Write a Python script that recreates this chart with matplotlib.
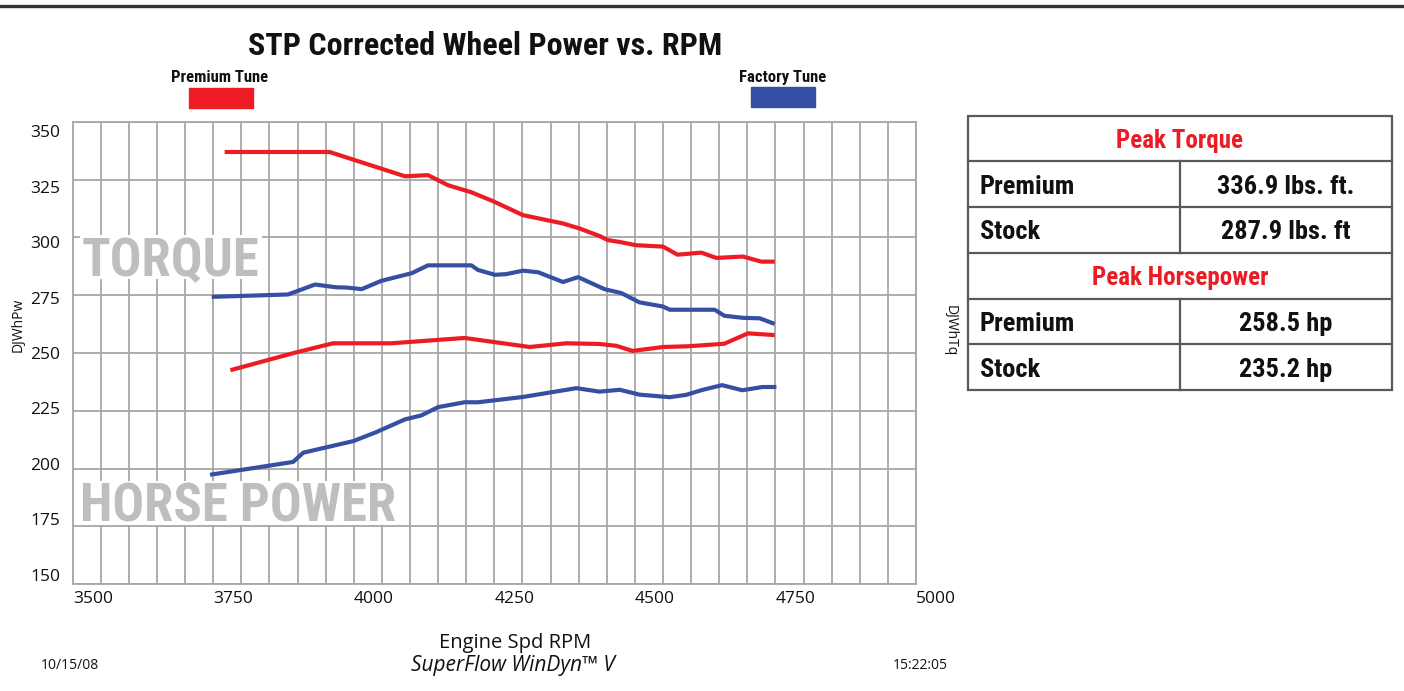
import numpy as np
import matplotlib
matplotlib.use("Agg")
import matplotlib.pyplot as plt
from matplotlib import font_manager as fm

# ---------------- data ----------------
x_ticks = [3500, 3750, 4000, 4250, 4500, 4750, 5000]
y_ticks = [150, 175, 200, 225, 250, 275, 300, 325, 350]

tq_prem_rpm = [3774, 3957, 4091, 4132, 4168, 4209, 4248, 4301, 4372, 4402, 4437,
               4452, 4473, 4502, 4550, 4576, 4618, 4645, 4692, 4725, 4745]
tq_prem = [336.9, 336.9, 326.4, 326.9, 322.5, 319.5, 315.6, 309.6, 306.0, 303.8, 300.6,
           298.8, 298.0, 296.6, 296.0, 292.5, 293.4, 291.1, 291.7, 289.5, 289.5]

tq_stock_rpm = [3751, 3883, 3931, 3969, 3987, 4014, 4049, 4103, 4132, 4209, 4221, 4251,
                4271, 4301, 4328, 4372, 4399, 4446, 4476, 4508, 4550, 4562, 4642, 4659,
                4692, 4722, 4745]
tq_stock = [274.3, 275.3, 279.6, 278.4, 278.3, 277.6, 281.2, 284.5, 287.9, 287.9, 285.9, 283.8,
            284.1, 285.6, 284.9, 280.7, 282.8, 277.6, 275.9, 271.9, 270.1, 268.7, 268.7, 266.1,
            265.2, 265.0, 262.9]

hp_prem_rpm = [3784, 3898, 3963, 4067, 4197, 4313, 4378, 4437, 4467, 4496, 4550, 4594,
               4659, 4701, 4745]
hp_prem = [242.8, 250.3, 254.2, 254.2, 256.5, 252.6, 254.2, 253.9, 253.1, 250.9, 252.6, 252.9,
           254.0, 258.5, 257.8]

hp_stock_rpm = [3748, 3892, 3910, 3999, 4040, 4091, 4120, 4150, 4197, 4221, 4301, 4396,
                4437, 4473, 4508, 4562, 4591, 4621, 4655, 4691, 4727, 4748]
hp_stock = [197.5, 202.9, 206.9, 211.9, 215.8, 221.3, 223.0, 226.6, 228.7, 228.7, 231.0, 234.8,
            233.3, 234.1, 232.0, 230.9, 231.9, 234.1, 236.1, 233.9, 235.3, 235.3]

table_headers = ["Peak Torque", "Peak Horsepower"]
table_rows = [("Premium", "336.9 lbs. ft."), ("Stock", "287.9 lbs. ft"),
              ("Premium", "258.5 hp"), ("Stock", "235.2 hp")]

series_names = ["Premium Tune", "Factory Tune"]

# ---------------- fonts ----------------
avail = {f.name for f in fm.fontManager.ttflist}
def pick(cands, default):
    for c in cands:
        if c in avail:
            return c
    return default

REG = pick(["Open Sans", "Lato", "Noto Sans", "DejaVu Sans"], "DejaVu Sans")
COND = pick(["Roboto Condensed", "Open Sans Condensed", "Liberation Sans Narrow",
             "DejaVu Sans Condensed"], None)
cond_stretch = "normal"
if COND is None:
    if any(f.name == "DejaVu Sans" and f.stretch == "condensed" for f in fm.fontManager.ttflist):
        COND = "DejaVu Sans"
        cond_stretch = "condensed"
    else:
        COND = pick(["Roboto", "Open Sans"], "DejaVu Sans")

def ck(size, color="#111111"):
    return dict(family=COND, fontweight="bold", fontstretch=cond_stretch,
                fontsize=size, color=color)

RED = "#ed1c24"
BLUE = "#3550a3"
GRID = "#a7a7a7"
GRAYTXT = "#bcbec0"

W, H = 1404, 691
def fx(px): return px / W
def fy(py): return 1 - py / H

fig = plt.figure(figsize=(W / 100, H / 100), dpi=100)
fig.patch.set_facecolor("white")

# top rule
fig.add_artist(plt.Line2D([0, 1], [fy(5.5), fy(5.5)], color="#333333", lw=2.4,
                          transform=fig.transFigure))

L, R, T, B = 72.7, 916.0, 121.7, 584.3
rect = [fx(L), fy(B), fx(R) - fx(L), fy(T) - fy(B)]
ax = fig.add_axes(rect)
ax.set_xlim(3500, 5000)
ax.set_ylim(150, 350)
ax.set_xticks(x_ticks)
ax.set_xticklabels([str(v) for v in x_ticks], family=REG, fontsize=12.5, ha="left")
ax.set_xticks(np.arange(3500, 5001, 50), minor=True)
ax.set_yticks(y_ticks)
ax.set_yticklabels([])
ax.tick_params(which="both", length=0, pad=5, colors="#111111")
ax.grid(which="both", axis="x", color=GRID, lw=1.3)
ax.grid(which="major", axis="y", color=GRID, lw=1.3)
ax.set_axisbelow(True)
for s in ax.spines.values():
    s.set_color(GRID)
    s.set_linewidth(1.3)

# y tick labels (offset spacing as in the printout)
axl = fig.add_axes(rect, frameon=False)
axl.set_ylim(145.8, 354.2)
axl.set_yticks(y_ticks)
axl.set_yticklabels([str(v) for v in y_ticks], family=REG, fontsize=12.5)
axl.set_xticks([])
axl.tick_params(length=0, pad=9, colors="#111111")
axl.patch.set_alpha(0)

ax.plot(tq_prem_rpm, tq_prem, color=RED, lw=3, zorder=4, solid_joinstyle="round")
ax.plot(tq_stock_rpm, tq_stock, color=BLUE, lw=3, zorder=4, solid_joinstyle="round")
ax.plot(hp_prem_rpm, hp_prem, color=RED, lw=3, zorder=4, solid_joinstyle="round")
ax.plot(hp_stock_rpm, hp_stock, color=BLUE, lw=3, zorder=4, solid_joinstyle="round")

big_texts = []
for label, xpx, basepx, size in [("TORQUE", 82, 276, 38), ("HORSE POWER", 80, 522, 38)]:
    t = ax.text(fx(xpx), fy(basepx), label, transform=fig.transFigure, ha="left",
                va="baseline", zorder=3, **ck(size, GRAYTXT))
    big_texts.append((t, basepx, size))

fig.canvas.draw()
for t, basepx, size in big_texts:
    bb = t.get_window_extent()
    cap = 0.711 * size * 100 / 72
    x0 = bb.x0 - 2
    w = bb.width + 4
    y0 = (H - basepx) - 3
    hgt = cap + 6
    ax.add_patch(plt.Rectangle((x0 / W, y0 / H), w / W, hgt / H, facecolor="white",
                               edgecolor="none", transform=fig.transFigure, zorder=2.9))

# title and legend
fig.text(fx(485), fy(55), "STP Corrected Wheel Power vs. RPM", ha="center", va="baseline",
         **ck(23))
fig.text(fx(220), fy(82), series_names[0], ha="center", va="baseline", **ck(12))
fig.text(fx(783), fy(82), series_names[1], ha="center", va="baseline", **ck(12))
fig.add_artist(plt.Rectangle((fx(189), fy(108)), fx(64), 20 / H, color=RED,
                             transform=fig.transFigure))
fig.add_artist(plt.Rectangle((fx(751), fy(107)), fx(64), 20 / H, color=BLUE,
                             transform=fig.transFigure))

# axis labels / footer
fig.text(fx(18), fy(325), "DJWhPw", rotation=90, ha="center", va="center",
         family=REG, fontsize=10, color="#111111")
fig.text(fx(950), fy(331), "DJWhTq", rotation=270, ha="center", va="center",
         family=REG, fontsize=10, color="#111111")
fig.text(fx(515), fy(648), "Engine Spd RPM", ha="center", va="baseline",
         family=REG, fontsize=14.5, color="#111111")
fig.text(fx(513), fy(671), "SuperFlow WinDyn\u2122 V", ha="center", va="baseline",
         family=REG, fontsize=15, style="italic", color="#111111")
fig.text(fx(70), fy(669), "10/15/08", ha="center", va="baseline",
         family=REG, fontsize=10, color="#111111")
fig.text(fx(920), fy(669), "15:22:05", ha="center", va="baseline",
         family=REG, fontsize=10, color="#111111")

# table
TL, TR, TT, TB = 968, 1392, 115.7, 390
axt = fig.add_axes([fx(TL), fy(TB), fx(TR) - fx(TL), fy(TT) - fy(TB)])
axt.set_xlim(0, 1)
axt.set_ylim(6, 0)
axt.axis("off")
LC = "#58595b"
axt.add_patch(plt.Rectangle((0, 0), 1, 6, fill=False, edgecolor=LC, lw=1.6, clip_on=False))
for yy in range(1, 6):
    axt.plot([0, 1], [yy, yy], color=LC, lw=1.6, clip_on=False)
axt.plot([0.5, 0.5], [1, 3], color=LC, lw=1.6, clip_on=False)
axt.plot([0.5, 0.5], [4, 6], color=LC, lw=1.6, clip_on=False)

hdr_rows = [0, 3]
data_rows = [1, 2, 4, 5]
for r, t in zip(hdr_rows, table_headers):
    axt.text(0.5, r + 0.5, t, ha="center", va="center_baseline", **ck(18, RED))
for r, (a, b) in zip(data_rows, table_rows):
    axt.text(0.028, r + 0.5, a, ha="left", va="center_baseline", **ck(19))
    axt.text(0.75, r + 0.5, b, ha="center", va="center_baseline", **ck(19))

fig.savefig("out.png", dpi=100, facecolor="white")
